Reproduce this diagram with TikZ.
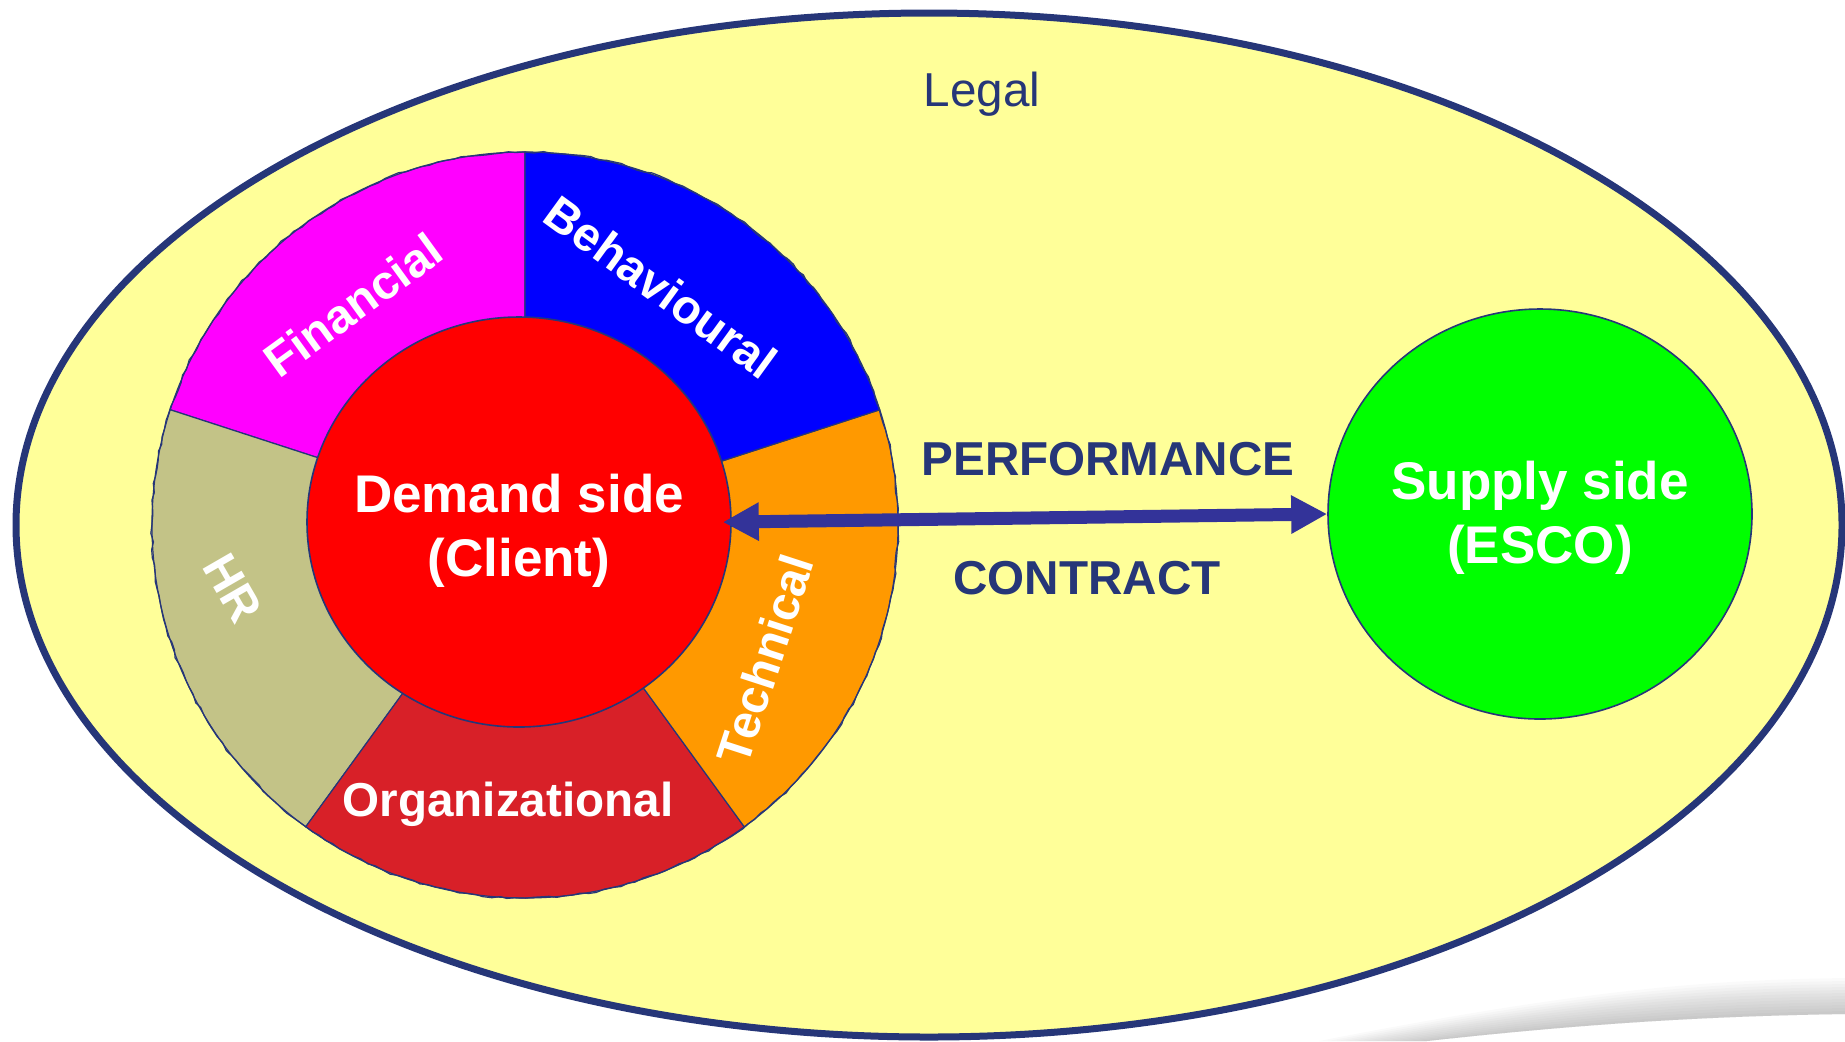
\documentclass[tikz,border=0pt]{standalone}
\usepackage{fontspec}
\setmainfont{Liberation Sans}
\usetikzlibrary{shapes.geometric,arrows.meta,decorations.pathmorphing}
\definecolor{legalfill}{RGB}{255,255,153}
\definecolor{navyc}{RGB}{38,54,120}
\definecolor{finc}{RGB}{255,0,255}
\definecolor{behc}{RGB}{0,0,255}
\definecolor{techc}{RGB}{255,153,0}
\definecolor{orgc}{RGB}{216,32,40}
\definecolor{hrc}{RGB}{195,195,135}
\definecolor{demandc}{RGB}{255,0,0}
\definecolor{supplyc}{RGB}{0,255,0}
\definecolor{arrowc}{RGB}{51,51,153}
\pgfmathsetseed{7}
\begin{document}
\begin{tikzpicture}[x=0.5pt,y=0.5pt,
  legalring/.style={draw=navyc, line width=3.5pt, fill=legalfill},
  donutslice/.style={draw=navyc, line width=0.6pt},
  seglabel/.style={text=white, font=\fontsize{23.8pt}{28pt}\selectfont\bfseries, inner sep=0pt},
  sidelabel/.style={text=white, font=\fontsize{26.5pt}{32pt}\selectfont\bfseries, align=center, inner sep=0pt},
  navytext/.style={text=navyc, font=\fontsize{23.8pt}{28pt}\selectfont\bfseries, inner sep=0pt},
  blob/.style={ellipse, draw=navyc, line width=0.8pt, inner sep=0pt, minimum width=212pt, minimum height=205pt},
  biarrow/.style={draw=arrowc, line width=6.5pt, {Triangle[length=18pt,width=18pt]}-{Triangle[length=18pt,width=18pt]}}
]
\useasboundingbox (0,0) rectangle (1845,-1041);
% swoosh shadow bottom right
\foreach \d in {3,6,...,36}{
  \fill[black, opacity=0.018] (1427,-1041) .. controls (1600,-1022) and (1720,-1016) .. (1845,-1014)
    -- (1845,-1014+\d) .. controls (1720,-1016+\d) and (1600,-1022+\d) .. (1427-3*\d,-1041) -- cycle;
}
% legal ellipse
\draw[legalring] (929,-525) ellipse [x radius=913, y radius=512];
% donut slices
\filldraw[donutslice, fill=finc] (525,-525) -- ++(90:373) arc[start angle=90, end angle=162, radius=373] -- cycle;
\filldraw[donutslice, fill=hrc] (525,-525) -- ++(162:373) arc[start angle=162, end angle=234, radius=373] -- cycle;
\filldraw[donutslice, fill=orgc] (525,-525) -- ++(234:373) arc[start angle=234, end angle=306, radius=373] -- cycle;
\filldraw[donutslice, fill=techc] (525,-525) -- ++(306:373) arc[start angle=306, end angle=378, radius=373] -- cycle;
\filldraw[donutslice, fill=behc] (525,-525) -- ++(18:373) arc[start angle=18, end angle=90, radius=373] -- cycle;
\draw[navyc, line width=0.6pt, decorate, decoration={random steps, segment length=4pt, amplitude=0.6pt}] (525,-525) circle[radius=373];
% client and ESCO
\node[blob, fill=demandc] (demand) at (519,-522) {};
\node[blob, fill=supplyc] (supply) at (1540,-514) {};
\draw[biarrow, shorten <=-4.5pt] (demand.east) -- (supply.west);
% texts
\node[sidelabel] (demandtext) at (519,-531) {Demand side\\(Client)};
\node[sidelabel] (supplytext) at (1540,-518) {Supply side\\(ESCO)};
\node[seglabel, rotate=36] (fin) at (353,-305) {Financial};
\node[seglabel, rotate=-36] (beh) at (661,-287) {Behavioural};
\node[seglabel, rotate=72] (tech) at (765,-659) {Technical};
\node[seglabel] (org) at (508,-804) {Organizational};
\node[seglabel, rotate=-60] (hr) at (233,-588) {HR};
\node[text=navyc, font=\fontsize{23.8pt}{28pt}\selectfont, inner sep=0pt] (legal) at (982,-94) {Legal};
\node[navytext] (perf) at (1108,-459) {PERFORMANCE};
\node[navytext] (contract) at (1087,-578) {CONTRACT};
\end{tikzpicture}
\end{document}
